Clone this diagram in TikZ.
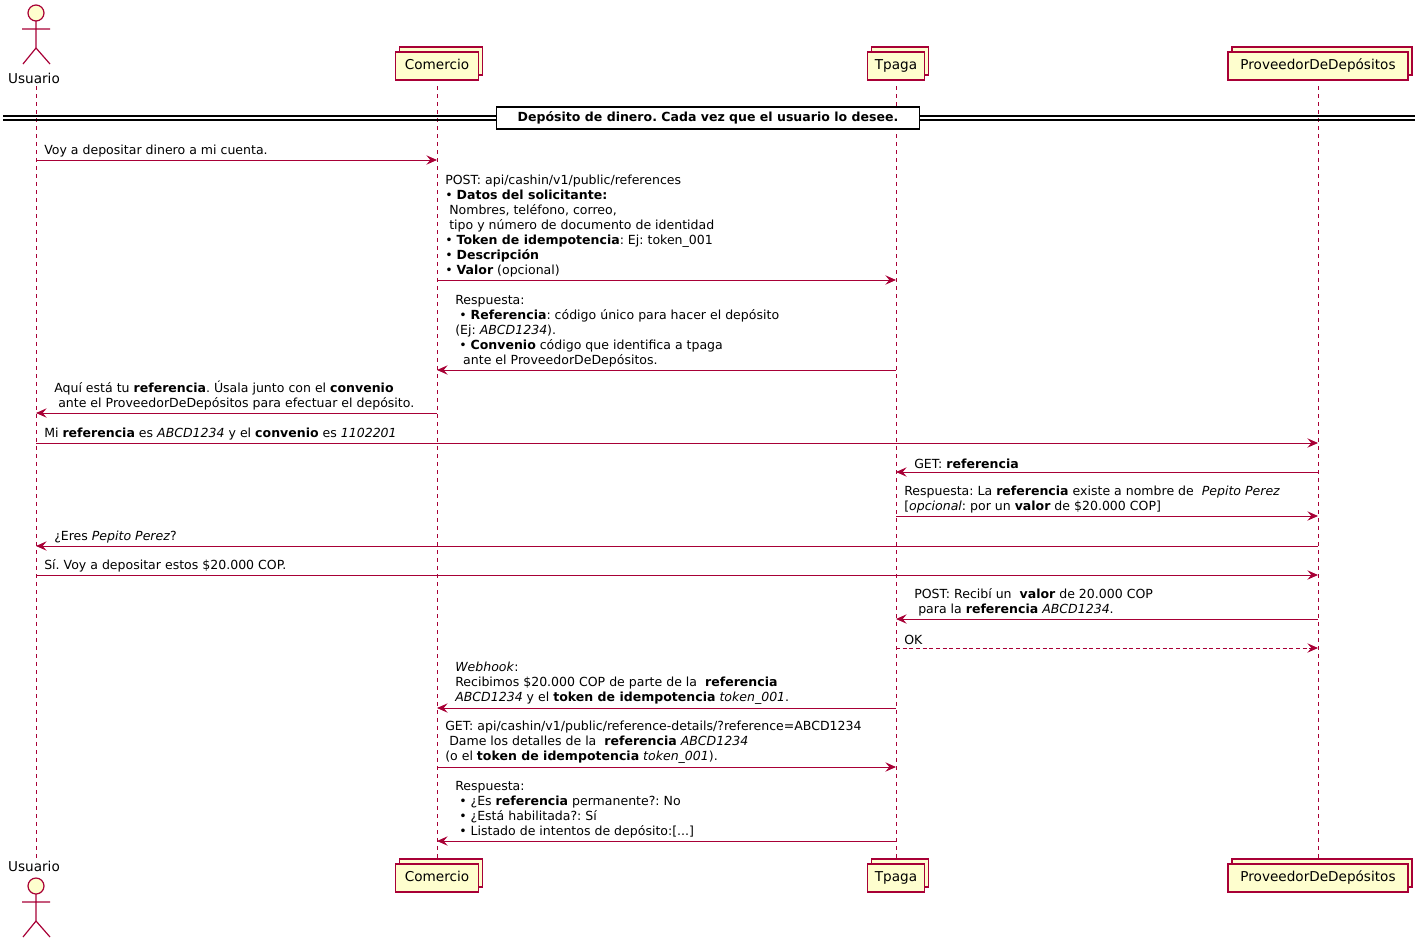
\documentclass[tikz,border=0pt]{standalone}
\usepackage{fontspec}
\setmainfont{DejaVu Sans}
\usetikzlibrary{positioning,arrows.meta}
\definecolor{seqred}{HTML}{A80036}
\definecolor{seqfill}{HTML}{FEFECE}
\frenchspacing
\newcommand{\msgtext}[3]{\node[txt] (#1) at (#2) {#3};}
\begin{document}
\begin{tikzpicture}[x=0.75pt,y=-0.75pt,
  life/.style={seqred, dashed, line width=0.6pt},
  msg/.style={seqred, line width=0.7pt, -{Stealth[length=8pt,width=7pt,inset=3pt]}},
  reply/.style={msg, densely dashed},
  part/.style={draw=seqred, fill=seqfill, line width=0.8pt, minimum height=21pt, inner sep=3pt,
    text height=8pt, text depth=2.5pt, font=\fontsize{10.2}{12}\selectfont},
  txt/.style={anchor=south west, align=left, inner sep=0pt, font=\fontsize{9.4}{11.25}\selectfont},
  every node/.style={text=black}]
\useasboundingbox (0,0) rectangle (1426,946);
% lifelines
\coordinate (U) at (36,0);
\coordinate (C) at (437,0);
\coordinate (T) at (896,0);
\coordinate (P) at (1318,0);
\foreach \n in {U,C,T,P}
  \draw[life] (\n |- 0,86) -- (\n |- 0,862);
% participants
\foreach \n/\w/\lbl in {C/83/Comercio, T/57/Tpaga, P/180/ProveedorDeDepósitos}{
  \foreach \yy in {66,878}{
    \node[part, minimum width=\w*0.75pt] at ([xshift=4*0.75pt] \n |- 0,\yy-5) {\phantom{\lbl}};
    \node[part, minimum width=\w*0.75pt] (\n\yy) at (\n |- 0,\yy) {\lbl};
  }
}
% actors
\foreach \yy/\ly in {5/78, 878/866}{
  \node[font=\fontsize{10.2}{12}\selectfont, inner sep=0pt] (usr\yy) at (34,\ly) {Usuario};
  \draw[seqred, line width=0.9pt, fill=seqfill] (36,\yy+8) circle (8);
  \draw[seqred, line width=0.9pt] (36,\yy+16) -- (36,\yy+43)
    (22,\yy+24) -- (50,\yy+24)
    (23,\yy+59) -- (36,\yy+43) -- (50,\yy+59);
}
% divider
\draw[line width=0.8pt] (3,116) -- (1415,116) (3,120) -- (1415,120);
\node[draw, fill=white, line width=1.2pt, minimum width=423*0.75pt, minimum height=22*0.75pt,
  font=\bfseries\fontsize{9.4}{11}\selectfont] (div) at (708,118) {Depósito de dinero. Cada vez que el usuario lo desee.};
% messages
\msgtext{m1}{44,157}{Voy a depositar dinero a mi cuenta.}
\draw[msg] (U |- 0,160) -- (C |- 0,160);
\msgtext{m2}{445,277}{POST: api/cashin/v1/public/references\\
• \textbf{Datos del solicitante:}\\
\ Nombres, teléfono, correo,\\
\ tipo y número de documento de identidad\\
• \textbf{Token de idempotencia}: Ej: token\_001\\
• \textbf{Descripción}\\
• \textbf{Valor} (opcional)}
\draw[msg] (C |- 0,280) -- (T |- 0,280);
\msgtext{m3}{455,367}{Respuesta:\\
\ • \textbf{Referencia}: código único para hacer el depósito\\
(Ej: \textit{ABCD1234}).\\
\ • \textbf{Convenio} código que identifica a tpaga\\
\ \ ante el ProveedorDeDepósitos.}
\draw[msg] (T |- 0,370) -- (C |- 0,370);
\msgtext{m4}{54,410}{Aquí está tu \textbf{referencia}. Úsala junto con el \textbf{convenio}\\
\ ante el ProveedorDeDepósitos para efectuar el depósito.}
\draw[msg] (C |- 0,413) -- (U |- 0,413);
\msgtext{m5}{44,440}{Mi \textbf{referencia} es \textit{ABCD1234} y el \textbf{convenio} es \textit{1102201}}
\draw[msg] (U |- 0,443) -- (P |- 0,443);
\msgtext{m6}{914,469}{GET: \textbf{referencia}}
\draw[msg] (P |- 0,472) -- (T |- 0,472);
\msgtext{m7}{904,513}{Respuesta: La \textbf{referencia} existe a nombre de \ \textit{Pepito Perez}\\
{[}\textit{opcional}: por un \textbf{valor} de \$20.000 COP{]}}
\draw[msg] (T |- 0,516) -- (P |- 0,516);
\msgtext{m8}{54,543}{¿Eres \textit{Pepito Perez}?}
\draw[msg] (P |- 0,546) -- (U |- 0,546);
\msgtext{m9}{44,572}{Sí. Voy a depositar estos \$20.000 COP.}
\draw[msg] (U |- 0,575) -- (P |- 0,575);
\msgtext{m10}{914,616}{POST: Recibí un \ \textbf{valor} de 20.000 COP\\
\ para la \textbf{referencia} \textit{ABCD1234}.}
\draw[msg] (P |- 0,619) -- (T |- 0,619);
\msgtext{m11}{904,645}{OK}
\draw[reply] (T |- 0,648) -- (P |- 0,648);
\msgtext{m12}{455,705}{\textit{Webhook}:\\
Recibimos \$20.000 COP de parte de la \ \textbf{referencia}\\
\textit{ABCD1234} y el \textbf{token de idempotencia} \textit{token\_001}.}
\draw[msg] (T |- 0,708) -- (C |- 0,708);
\msgtext{m13}{445,764}{GET: api/cashin/v1/public/reference-details/?reference=ABCD1234\\
\ Dame los detalles de la \ \textbf{referencia} \textit{ABCD1234}\\
(o el \textbf{token de idempotencia} \textit{token\_001}).}
\draw[msg] (C |- 0,767) -- (T |- 0,767);
\msgtext{m14}{455,838}{Respuesta:\\
\ • ¿Es \textbf{referencia} permanente?: No\\
\ • ¿Está habilitada?: Sí\\
\ • Listado de intentos de depósito:[...]}
\draw[msg] (T |- 0,841) -- (C |- 0,841);
\end{tikzpicture}
\end{document}
